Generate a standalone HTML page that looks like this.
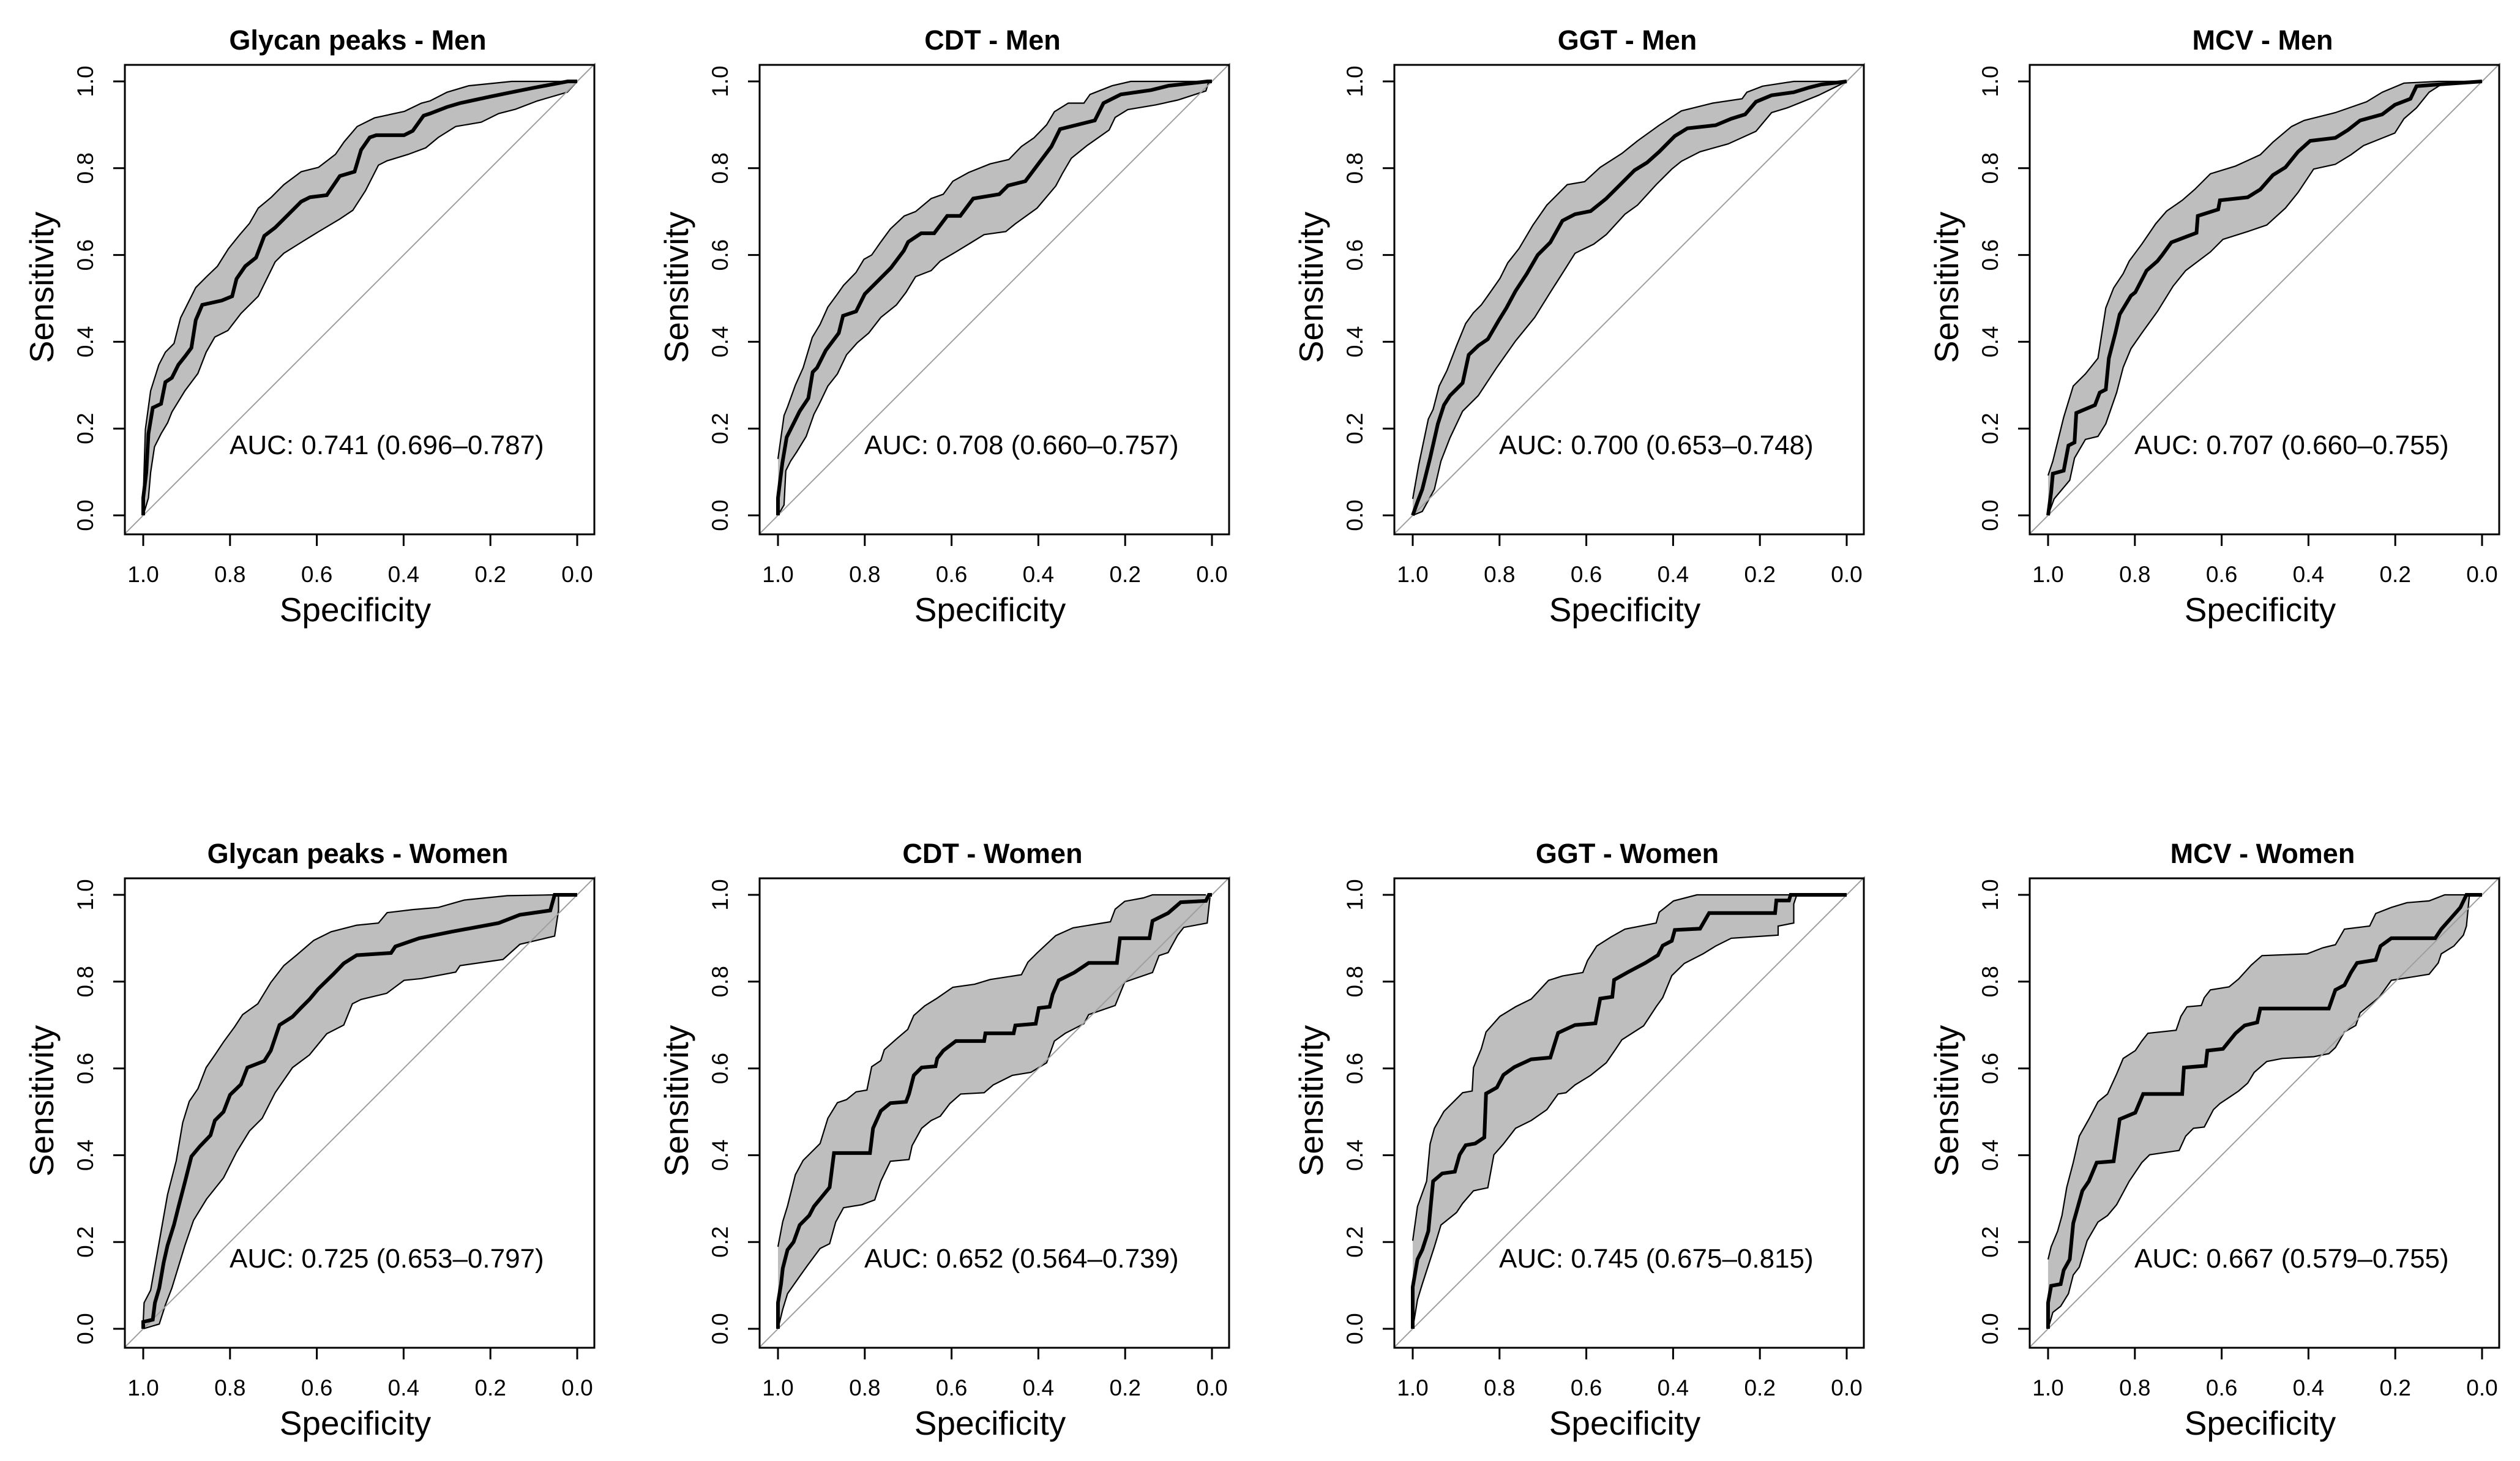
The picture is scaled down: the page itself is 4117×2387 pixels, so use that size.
<!DOCTYPE html>
<html><head><meta charset="utf-8"><style>
html,body{margin:0;padding:0;background:#fff;}
svg{display:block;font-family:"Liberation Sans",Arial,sans-serif;}
</style></head><body>
<svg id="chart" width="4117" height="2387" viewBox="0 0 4117 2387" xmlns="http://www.w3.org/2000/svg"></svg>
<script>
const titles=["Glycan peaks - Men","CDT - Men","GGT - Men","MCV - Men","Glycan peaks - Women","CDT - Women","GGT - Women","MCV - Women"];
const aucLabels=["AUC: 0.741 (0.696–0.787)","AUC: 0.708 (0.660–0.757)","AUC: 0.700 (0.653–0.748)","AUC: 0.707 (0.660–0.755)","AUC: 0.725 (0.653–0.797)","AUC: 0.652 (0.564–0.739)","AUC: 0.745 (0.675–0.815)","AUC: 0.667 (0.579–0.755)"];
const tickValues=[1.0,0.8,0.6,0.4,0.2,0.0];
const tickLabels=["1.0","0.8","0.6","0.4","0.2","0.0"];

// Glycan peaks - Men
const p0MidSpec=[1,1,.993,.988,.978,.959,.949,.934,.919,.904,.889,.879,.864,.819,.795,.785,.765,.74,.721,.696,.676,.636,.616,.577,.547,.513,.498,.478,.463,.399,.379,.354,.339,.3,.27,.2,.151,.101,.022,0];
const p0MidSens=[0,.04,.099,.188,.248,.257,.307,.317,.347,.366,.386,.45,.485,.495,.505,.545,.574,.594,.644,.663,.683,.723,.733,.738,.782,.792,.842,.871,.876,.876,.886,.921,.926,.941,.95,.965,.975,.985,1,1];
const p0UpSpec=[1,.995,.983,.964,.949,.929,.914,.894,.879,.854,.829,.804,.78,.755,.735,.705,.676,.636,.596,.557,.537,.507,.467,.398,.359,.339,.3,.25,.151,0];
const p0UpSens=[.04,.198,.287,.347,.376,.396,.455,.495,.525,.55,.574,.614,.644,.673,.708,.733,.762,.792,.802,.832,.861,.896,.916,.931,.95,.955,.975,.99,1,1];
const p0LoSpec=[1,.988,.983,.974,.959,.944,.934,.904,.874,.855,.835,.805,.775,.735,.696,.676,.636,.597,.547,.517,.488,.458,.438,.389,.349,.32,.28,.221,.181,.142,.092,.023,0];
const p0LoSens=[0,.04,.099,.158,.188,.213,.238,.287,.327,.376,.411,.426,.465,.505,.584,.604,.629,.653,.683,.703,.748,.807,.817,.832,.847,.871,.896,.906,.926,.936,.955,.975,1];

// CDT - Men
const p1MidSpec=[1,1,.99,.98,.96,.95,.93,.92,.91,.89,.86,.85,.82,.80,.77,.74,.71,.70,.67,.64,.61,.58,.55,.49,.47,.43,.40,.37,.35,.27,.25,.21,.14,.10,.01,0];
const p1MidSens=[0,.04,.12,.18,.22,.24,.27,.33,.34,.38,.42,.46,.47,.51,.54,.57,.61,.63,.65,.65,.69,.69,.73,.74,.76,.77,.81,.85,.89,.91,.95,.97,.98,.99,1,1];
const p1UpSpec=[1,.986,.978,.96,.942,.921,.903,.885,.863,.849,.82,.802,.784,.763,.741,.709,.683,.647,.619,.597,.561,.511,.468,.439,.41,.381,.363,.331,.295,.281,.23,.187,.014];
const p1UpSens=[.13,.23,.25,.30,.34,.41,.44,.48,.51,.53,.56,.59,.60,.63,.66,.69,.70,.73,.74,.77,.79,.81,.82,.85,.87,.90,.93,.95,.95,.97,.99,1,1];
const p1LoSpec=[1,.986,.982,.971,.957,.935,.917,.906,.885,.863,.842,.817,.791,.763,.727,.705,.683,.647,.626,.59,.554,.525,.475,.453,.403,.36,.345,.324,.288,.237,.223,.194,.129,.079,.014,.007];
const p1LoSens=[0,.024,.103,.125,.146,.182,.233,.254,.298,.326,.37,.398,.42,.456,.485,.514,.55,.564,.586,.607,.629,.647,.654,.672,.708,.759,.787,.823,.852,.888,.917,.935,.946,.957,.978,1];

// GGT - Men
const p2MidSpec=[1,.989,.978,.96,.942,.928,.914,.885,.871,.849,.827,.802,.784,.763,.737,.712,.683,.655,.626,.59,.554,.525,.489,.46,.432,.396,.367,.302,.266,.234,.209,.173,.122,.086,.058,0];
const p2MidSens=[0,.031,.06,.132,.211,.254,.276,.305,.37,.391,.406,.449,.478,.517,.557,.6,.629,.679,.694,.701,.73,.759,.795,.813,.838,.874,.892,.899,.914,.924,.953,.968,.975,.986,.993,1];
const p2UpSpec=[1,.986,.964,.953,.939,.921,.899,.878,.86,.842,.827,.799,.781,.755,.723,.691,.644,.604,.568,.518,.482,.432,.381,.309,.241,.23,.194,.122,.014];
const p2UpSens=[.038,.117,.222,.244,.298,.334,.391,.442,.467,.485,.506,.546,.582,.615,.669,.715,.762,.769,.802,.834,.863,.899,.932,.95,.96,.975,.989,1,1];
const p2LoSpec=[1,.978,.95,.935,.914,.885,.849,.806,.763,.719,.683,.651,.626,.583,.554,.511,.482,.439,.403,.381,.338,.273,.209,.173,.137,.065,.022,0];
const p2LoSens=[0,.009,.06,.125,.179,.24,.276,.341,.402,.456,.514,.564,.604,.625,.647,.694,.715,.762,.798,.816,.838,.856,.885,.928,.939,.968,.989,1];

// MCV - Men
const p3MidSpec=[1,.993,.989,.964,.953,.939,.935,.892,.881,.867,.86,.845,.835,.809,.799,.773,.748,.737,.716,.658,.655,.608,.604,.54,.511,.482,.453,.424,.396,.338,.309,.281,.23,.201,.165,.151,.101,0];
const p3MidSens=[0,.053,.096,.103,.161,.168,.236,.254,.283,.29,.362,.42,.463,.506,.514,.564,.586,.6,.629,.651,.69,.705,.726,.733,.751,.784,.802,.838,.863,.87,.888,.91,.924,.946,.96,.989,.993,1];
const p3UpSpec=[1,.989,.964,.942,.914,.885,.867,.849,.827,.813,.784,.752,.727,.691,.662,.626,.568,.511,.482,.439,.41,.338,.266,.23,.18,.101,0];
const p3UpSens=[.092,.125,.226,.298,.326,.362,.478,.524,.557,.586,.625,.672,.701,.726,.751,.787,.805,.831,.86,.896,.91,.928,.953,.975,.996,1,1];
const p3LoSpec=[1,.986,.95,.939,.914,.885,.867,.842,.827,.809,.784,.748,.712,.683,.626,.597,.54,.496,.453,.424,.388,.338,.302,.273,.201,.18,.151,.122,.094,0];
const p3LoSens=[0,.038,.081,.132,.175,.182,.211,.283,.341,.384,.42,.47,.528,.564,.607,.636,.654,.669,.708,.744,.798,.809,.831,.852,.881,.914,.939,.975,.993,1];

// Glycan peaks - Women
const p4MidSpec=[1,1,.978,.973,.963,.953,.944,.929,.919,.904,.889,.869,.845,.835,.815,.8,.775,.76,.721,.706,.686,.656,.637,.617,.597,.562,.538,.508,.429,.419,.364,.29,.181,.132,.062,.052,0];
const p4MidSens=[0,.016,.021,.06,.094,.152,.192,.24,.28,.338,.397,.421,.446,.48,.5,.539,.563,.602,.617,.641,.7,.719,.739,.759,.783,.817,.842,.861,.866,.881,.9,.915,.935,.954,.964,1,1];
const p4UpSpec=[1,.998,.983,.963,.944,.924,.909,.894,.874,.855,.835,.815,.79,.771,.736,.706,.676,.647,.607,.567,.508,.458,.438,.379,.32,.26,.161,.052,0];
const p4UpSens=[.016,.06,.089,.201,.309,.387,.475,.524,.553,.602,.631,.661,.695,.724,.749,.798,.837,.861,.895,.915,.93,.935,.959,.966,.971,.988,.998,1,1];
const p4LoSpec=[1,.963,.949,.934,.904,.884,.854,.815,.785,.755,.726,.696,.656,.617,.577,.538,.518,.498,.439,.399,.359,.28,.27,.171,.132,.052,.043,.043,0];
const p4LoSens=[0,.011,.055,.094,.192,.25,.299,.348,.407,.456,.485,.544,.602,.631,.68,.7,.749,.759,.773,.803,.807,.822,.837,.851,.886,.905,.964,1,1];

// CDT - Women
const p5MidSpec=[1,1,.993,.989,.978,.964,.95,.928,.917,.899,.881,.871,.788,.781,.763,.741,.705,.698,.687,.669,.637,.633,.619,.59,.525,.522,.457,.453,.406,.399,.374,.367,.353,.317,.284,.219,.212,.144,.137,.101,.072,.014,.007,0];
const p5MidSens=[0,.06,.103,.139,.182,.2,.239,.261,.282,.304,.326,.405,.405,.462,.502,.52,.523,.541,.584,.602,.605,.623,.641,.663,.663,.681,.681,.699,.703,.739,.742,.771,.803,.821,.843,.843,.9,.9,.94,.958,.983,.986,1,1];
const p5UpSpec=[1,.989,.978,.96,.942,.924,.903,.885,.863,.842,.82,.795,.784,.763,.755,.727,.701,.687,.662,.633,.597,.547,.511,.439,.424,.403,.36,.32,.234,.223,.201,.158,.137,.014];
const p5UpSens=[.189,.247,.283,.355,.388,.406,.427,.485,.521,.528,.546,.55,.604,.618,.643,.668,.69,.722,.744,.762,.787,.794,.805,.816,.845,.866,.906,.924,.938,.967,.985,.993,1,1];
const p5LoSpec=[1,.989,.978,.95,.932,.903,.881,.867,.849,.806,.777,.763,.741,.698,.691,.669,.647,.626,.604,.579,.525,.504,.46,.417,.381,.363,.338,.295,.284,.223,.201,.137,.122,.101,.079,.065,.011,.004];
const p5LoSens=[0,.045,.081,.121,.146,.185,.196,.246,.279,.286,.297,.34,.386,.39,.422,.462,.48,.49,.519,.541,.544,.562,.584,.591,.613,.663,.681,.703,.724,.745,.799,.821,.86,.867,.907,.925,.935,1];

// GGT - Women
const p6MidSpec=[1,1,.989,.978,.964,.953,.932,.903,.892,.878,.856,.835,.831,.806,.791,.766,.727,.683,.665,.626,.579,.568,.54,.536,.504,.464,.435,.424,.403,.396,.338,.317,.165,.162,.133,.129,0];
const p6MidSens=[0,.096,.16,.182,.225,.34,.358,.362,.401,.423,.427,.441,.542,.556,.585,.603,.621,.625,.682,.7,.704,.761,.765,.804,.822,.843,.861,.883,.894,.919,.922,.958,.958,.987,.987,1,1];
const p6UpSpec=[1,.989,.968,.96,.95,.928,.885,.863,.86,.842,.831,.799,.763,.727,.687,.655,.608,.597,.576,.543,.511,.439,.432,.399,.345,.137,.108,0];
const p6UpSens=[.203,.282,.34,.426,.462,.501,.544,.548,.602,.645,.684,.72,.742,.76,.803,.813,.821,.849,.882,.903,.921,.935,.96,.986,1,1,1,1];
const p6LoSpec=[1,.989,.978,.95,.935,.899,.885,.86,.827,.813,.791,.763,.727,.691,.665,.647,.626,.59,.554,.532,.518,.468,.439,.424,.403,.374,.331,.302,.266,.158,.158,.122,.122,.115,0];
const p6LoSens=[0,.067,.103,.189,.239,.268,.289,.318,.325,.401,.426,.462,.48,.505,.541,.544,.562,.584,.613,.645,.666,.698,.742,.763,.814,.842,.864,.882,.9,.907,.928,.935,.979,1,1];

// MCV - Women
const p7MidSpec=[1,1,.993,.971,.964,.95,.942,.921,.906,.888,.849,.835,.799,.781,.691,.687,.637,.633,.597,.568,.547,.518,.511,.353,.338,.317,.302,.288,.245,.234,.209,.108,.094,.072,.05,.036,0];
const p7MidSens=[0,.06,.099,.103,.135,.16,.243,.318,.34,.383,.386,.483,.498,.541,.541,.602,.606,.641,.645,.681,.699,.706,.738,.738,.781,.792,.821,.843,.85,.882,.9,.9,.921,.946,.971,1,1];
const p7UpSpec=[1,.993,.978,.968,.957,.942,.928,.906,.885,.863,.842,.827,.799,.784,.77,.705,.694,.68,.647,.64,.626,.583,.561,.532,.507,.403,.367,.338,.317,.259,.245,.209,.173,.122,.086,.036,0];
const p7UpSens=[.16,.189,.225,.261,.326,.383,.444,.483,.523,.541,.587,.623,.641,.663,.681,.688,.72,.742,.745,.763,.781,.788,.806,.838,.86,.864,.878,.885,.921,.928,.957,.971,.982,.986,1,1,1];
const p7LoSpec=[1,.989,.971,.953,.942,.928,.91,.885,.863,.842,.813,.784,.766,.698,.683,.665,.64,.619,.604,.583,.561,.54,.525,.496,.46,.388,.353,.338,.317,.291,.281,.237,.209,.122,.101,.094,.065,.043,.036,.029];
const p7LoSens=[0,.038,.052,.081,.124,.142,.203,.246,.261,.286,.34,.383,.401,.411,.444,.462,.465,.505,.519,.533,.548,.566,.591,.616,.623,.627,.634,.648,.684,.699,.728,.764,.803,.817,.843,.864,.882,.907,.928,1];

const panels=[
 [p0MidSpec,p0MidSens,p0UpSpec,p0UpSens,p0LoSpec,p0LoSens],
 [p1MidSpec,p1MidSens,p1UpSpec,p1UpSens,p1LoSpec,p1LoSens],
 [p2MidSpec,p2MidSens,p2UpSpec,p2UpSens,p2LoSpec,p2LoSens],
 [p3MidSpec,p3MidSens,p3UpSpec,p3UpSens,p3LoSpec,p3LoSens],
 [p4MidSpec,p4MidSens,p4UpSpec,p4UpSens,p4LoSpec,p4LoSens],
 [p5MidSpec,p5MidSens,p5UpSpec,p5UpSens,p5LoSpec,p5LoSens],
 [p6MidSpec,p6MidSens,p6UpSpec,p6UpSens,p6LoSpec,p6LoSens],
 [p7MidSpec,p7MidSens,p7UpSpec,p7UpSens,p7LoSpec,p7LoSens]
];

const NS="http://www.w3.org/2000/svg";
const svg=document.getElementById('chart');
function mk(tag,attrs,parent){const e=document.createElementNS(NS,tag);for(const k in attrs)e.setAttribute(k,attrs[k]);parent.appendChild(e);return e;}

panels.forEach((p,i)=>{
  const col=i%4,row=Math.floor(i/4);
  const x0=234+1037*col+(col===3?1:0);
  const W=709, H=709;
  const yTop=133+1329*row;
  const sx=s=>x0+(1-s)*W;
  const sy=v=>yTop+(1-v)*H;
  const g=mk('g',{},svg);
  
  
  const bl=x0-30,br=x0+737,bt=yTop-27,bb=yTop+740;
  // band
  const [ms,mv,us,uv,ls,lv]=p;
  let pts=[];
  for(let k=0;k<us.length;k++)pts.push(sx(us[k]).toFixed(1)+','+sy(uv[k]).toFixed(1));
  for(let k=ls.length-1;k>=0;k--)pts.push(sx(ls[k]).toFixed(1)+','+sy(lv[k]).toFixed(1));
  const band=mk('polygon',{points:pts.join(' '),fill:'#bebebe',stroke:'none'},g);
  
  
  const up=mk('polyline',{points:us.map((s,k)=>sx(s).toFixed(1)+','+sy(uv[k]).toFixed(1)).join(' '),fill:'none',stroke:'#000','stroke-width':2.2},g);
  
  
  const lo=mk('polyline',{points:ls.map((s,k)=>sx(s).toFixed(1)+','+sy(lv[k]).toFixed(1)).join(' '),fill:'none',stroke:'#000','stroke-width':2.2},g);
  
  
  // diagonal
  const dg=mk('line',{x1:sx(1.042),y1:sy(-0.042),x2:sx(-0.042),y2:sy(1.042),stroke:'#9e9e9e','stroke-width':2},g);
  
  
  const mid=mk('polyline',{points:ms.map((s,k)=>sx(s).toFixed(1)+','+sy(mv[k]).toFixed(1)).join(' '),fill:'none',stroke:'#000','stroke-width':6,'stroke-linejoin':'miter'},g);
  
  
  // box
  const box=mk('rect',{x:bl,y:bt,width:br-bl,height:bb-bt,fill:'none',stroke:'#000','stroke-width':3},g);
  
  
  // ticks
  tickValues.forEach((t,k)=>{
    const tx=mk('line',{x1:sx(t),y1:bb,x2:sx(t),y2:bb+19,stroke:'#000','stroke-width':3},g);
    
    
    const lx=mk('text',{x:sx(t),y:bb+78,'font-size':37,'text-anchor':'middle',fill:'#000'},g);
    lx.textContent=tickLabels[k];
    
    
    const ty=mk('line',{x1:bl,y1:sy(1-t),x2:bl-19,y2:sy(1-t),stroke:'#000','stroke-width':3},g);
    
    
    const cy=sy(1-t), cx=x0-82;
    const ly=mk('text',{x:cx,y:cy,'font-size':37,'text-anchor':'middle',fill:'#000',transform:'rotate(-90 '+cx+' '+cy+')'},g);
    ly.textContent=tickLabels[5-k];
    
    
  });
  const xt=mk('text',{x:x0+W/2-8,y:bb+142,'font-size':55,'text-anchor':'middle',fill:'#000'},g);
  xt.textContent='Specificity';
  
  
  const ycx=x0-147, ycy=yTop+H/2-18;
  const yt=mk('text',{x:ycx,y:ycy,'font-size':55,'text-anchor':'middle',fill:'#000',transform:'rotate(-90 '+ycx+' '+ycy+')'},g);
  yt.textContent='Sensitivity';
  
  
  const tt=mk('text',{x:x0+W/2-4,y:bt-25,'font-size':45,'font-weight':'bold','text-anchor':'middle',fill:'#000'},g);
  tt.textContent=titles[i];
  
  
  const at=mk('text',{x:x0+141,y:yTop+609,'font-size':44,fill:'#000'},g);
  at.textContent=aucLabels[i];
  
  
});
</script>
</body></html>
